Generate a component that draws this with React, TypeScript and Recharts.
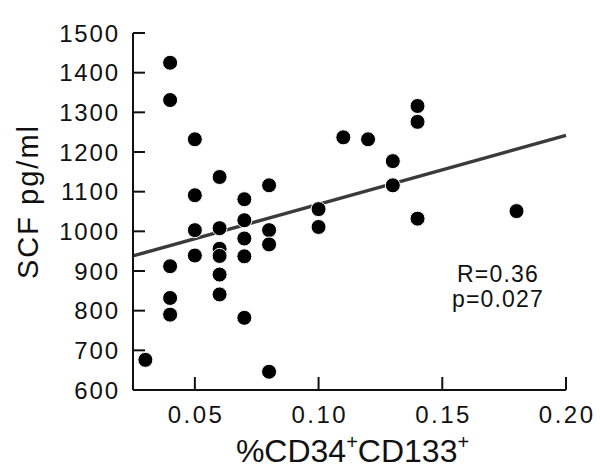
import React from "react";
import { ScatterChart, Scatter, XAxis, YAxis, ReferenceLine } from "recharts";

const xValues = [
  0.03,
  0.04, 0.04, 0.04, 0.04, 0.04,
  0.05, 0.05, 0.05, 0.05,
  0.06, 0.06, 0.06, 0.06, 0.06, 0.06,
  0.07, 0.07, 0.07, 0.07, 0.07,
  0.08, 0.08, 0.08, 0.08,
  0.10, 0.10,
  0.11,
  0.12,
  0.13, 0.13,
  0.14, 0.14, 0.14,
  0.18,
];
const scfValues = [
  676,
  1425, 1331, 912, 832, 790,
  1232, 1091, 1003, 939,
  1137, 1008, 956, 938, 891, 841,
  1081, 1028, 982, 937, 782,
  1116, 1003, 967, 646,
  1056, 1011,
  1237,
  1232,
  1177, 1116,
  1316, 1276, 1032,
  1051,
];
const xTicks = [0.05, 0.1, 0.15, 0.2];
const yTicks = [600, 700, 800, 900, 1000, 1100, 1200, 1300, 1400, 1500];
const fitLine = [
  { x: 0.025, y: 938 },
  { x: 0.2, y: 1242 },
];
const statsText = ["R=0.36", "p=0.027"];

const points = xValues.map((x, i) => ({ x, y: scfValues[i] }));

const FONT = "'Liberation Sans', Arial, Helvetica, sans-serif";

const XTick = (props: any) => {
  const { x, y, payload } = props;
  const axisY = y - 16;
  return (
    <g>
      <line x1={x} y1={axisY} x2={x} y2={axisY - 13} stroke="#111" strokeWidth={2} />
      <text x={x + 1.2} y={y} dy="0.71em" textAnchor="middle" fontFamily={FONT} fontSize={24} letterSpacing={2.5} fill="#111">
        {Number(payload.value).toFixed(2)}
      </text>
    </g>
  );
};

const YTick = (props: any) => {
  const { x, y, payload } = props;
  const axisX = x + 15;
  return (
    <g>
      <line x1={axisX} y1={y} x2={axisX + 12} y2={y} stroke="#111" strokeWidth={2} />
      <text x={x + 1.8} y={y} dy="0.355em" textAnchor="end" fontFamily={FONT} fontSize={24} letterSpacing={1.8} fill="#111">
        {payload.value}
      </text>
    </g>
  );
};

const YTitle = (props: any) => {
  const vb = props.viewBox || { x: 0, y: 33, width: 133, height: 357 };
  const cx = vb.x + 38;
  const cy = vb.y + vb.height / 2 - 10;
  return (
    <text x={cx} y={cy} transform={`rotate(-90, ${cx}, ${cy})`} textAnchor="middle" fontFamily={FONT} fontSize={29} letterSpacing={2} fill="#111">
      SCF pg/ml
    </text>
  );
};

const XTitle = (props: any) => {
  const vb = props.viewBox || { x: 133, y: 390, width: 433, height: 86 };
  const cx = vb.x + vb.width / 2 + 3;
  const cy = vb.y + 72;
  return (
    <text x={cx} y={cy} textAnchor="middle" fontFamily={FONT} fontSize={32} fill="#111">
      <tspan>%CD34</tspan>
      <tspan dy={-13} fontSize={20}>+</tspan>
      <tspan dy={13}>CD133</tspan>
      <tspan dy={-13} fontSize={20}>+</tspan>
    </text>
  );
};

const Dot = (props: any) => {
  const { cx, cy } = props;
  return <circle cx={cx} cy={cy} r={7.5} fill="#000" stroke="#fff" strokeWidth={1} />;
};

export default function App() {
  return (
    <div style={{ position: "absolute", left: 0, top: 0, width: 600, height: 476, background: "#fff" }}>
      <ScatterChart width={600} height={476} margin={{ top: 33, right: 34, bottom: 0, left: 0 }}>
        <XAxis
          type="number"
          dataKey="x"
          domain={[0.025, 0.2]}
          ticks={xTicks}
          allowDataOverflow
          height={86}
          tickSize={0}
          tickMargin={16}
          tickLine={false}
          axisLine={{ stroke: "#111", strokeWidth: 2 }}
          tick={<XTick />}
          interval={0}
          label={<XTitle />}
        />
        <YAxis
          type="number"
          dataKey="y"
          domain={[600, 1500]}
          ticks={yTicks}
          allowDataOverflow
          width={133}
          tickSize={0}
          tickMargin={15}
          tickLine={false}
          axisLine={{ stroke: "#111", strokeWidth: 2 }}
          tick={<YTick />}
          interval={0}
          label={<YTitle />}
        />
        <ReferenceLine
          segment={fitLine}
          stroke="#3a3a3a"
          strokeWidth={3.4}
          ifOverflow="visible"
        />
        <Scatter data={points} isAnimationActive={false} shape={<Dot />} />
        <text x={498} y={282} textAnchor="middle" fontFamily={FONT} fontSize={23} letterSpacing={1.2} fill="#111">
          {statsText[0]}
        </text>
        <text x={498} y={307} textAnchor="middle" fontFamily={FONT} fontSize={23} letterSpacing={1.2} fill="#111">
          {statsText[1]}
        </text>
      </ScatterChart>
    </div>
  );
}
